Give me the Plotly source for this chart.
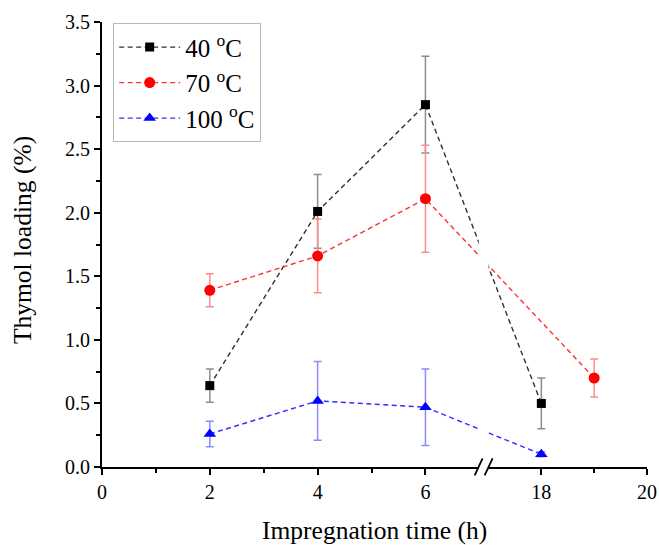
import plotly.graph_objects as go

# Impregnation times (h) and thymol loading (%) with standard deviations
times_40 = [2, 4, 6, 18]
load_40 = [0.64, 2.01, 2.85, 0.50]
err_40 = [0.13, 0.29, 0.38, 0.20]

times_70 = [2, 4, 6, 19]
load_70 = [1.39, 1.66, 2.11, 0.70]
err_70 = [0.13, 0.29, 0.42, 0.15]

times_100 = [2, 4, 6, 18]
load_100 = [0.26, 0.52, 0.47, 0.10]
err_100 = [0.10, 0.31, 0.30, 0.02]

x_major = [0, 2, 4, 6, 18, 20]
x_minor = [1, 3, 5, 19]
y_ticks = [0.0, 0.5, 1.0, 1.5, 2.0, 2.5, 3.0, 3.5]

series_names = ["40 <sup>o</sup>C", "70 <sup>o</sup>C", "100 <sup>o</sup>C"]


# Broken x axis: 0-6 h linear, then a break, then 18-20 h
BREAK_LOW, BREAK_HIGH = 6, 18
HIGH_OFFSET, HIGH_SCALE = 8.15, 0.98


def axis_pos(t):
    if t <= BREAK_LOW:
        return t
    return HIGH_OFFSET + (t - BREAK_HIGH) * HIGH_SCALE


def to_axis(ts):
    return [axis_pos(t) for t in ts]


FONT = "Liberation Serif"

fig = go.Figure()

# (times, values, errors, line colour, marker colour, error-bar colour, symbol, size)
styles = [
    (times_40, load_40, err_40, "#303030", "#000000", "#8c8c8c", "square", 9),
    (times_70, load_70, err_70, "#ff3030", "#ff0000", "#ff8c8c", "circle", 11),
    (times_100, load_100, err_100, "#3030ff", "#0000ff", "#8c8cff", "triangle-up", 11),
]

for name, (ts, ys, es, lc, mc, ec, sym, sz) in zip(series_names, styles):
    fig.add_trace(go.Scatter(
        x=to_axis(ts), y=ys, name=name, mode="lines+markers",
        line=dict(color=lc, width=1.4, dash="5px,3.5px"),
        marker=dict(symbol=sym, size=sz, color=mc, line=dict(width=0)),
        error_y=dict(type="data", array=es, visible=True, color=ec,
                     thickness=1.5, width=4),
        cliponaxis=False,
    ))

x_hi = axis_pos(20)

fig.update_layout(
    width=659, height=545,
    margin=dict(l=101.5, r=11.8, t=21.5, b=78.3, autoexpand=False),
    paper_bgcolor="white", plot_bgcolor="white",
    font=dict(family=FONT, color="black", size=20),
    showlegend=True,
    legend=dict(
        x=0.0205, y=0.997, xanchor="left", yanchor="top",
        bgcolor="white", bordercolor="#b8b8b8", borderwidth=1,
        font=dict(family=FONT, size=25, color="black"),
        itemwidth=61, tracegroupgap=0,
    ),
    xaxis=dict(
        range=[0, x_hi], showgrid=False, zeroline=False,
        showline=True, linecolor="black", linewidth=2,
        ticks="outside", ticklen=6, tickwidth=2, tickcolor="black",
        tickmode="array", tickvals=to_axis(x_major),
        ticktext=[str(v) for v in x_major],
        tickfont=dict(family=FONT, size=20, color="black"),
        minor=dict(tickmode="array", tickvals=to_axis(x_minor),
                   ticks="outside", ticklen=4, tickwidth=2, tickcolor="black"),
        fixedrange=True,
    ),
    yaxis=dict(
        range=[0, 3.5], showgrid=False, zeroline=False,
        showline=True, linecolor="black", linewidth=2,
        ticks="outside", ticklen=6, tickwidth=2, tickcolor="black",
        tickmode="array", tickvals=y_ticks,
        ticktext=[f"{v:.1f}" for v in y_ticks],
        tickfont=dict(family=FONT, size=20, color="black"),
        minor=dict(dtick=0.25, ticks="outside", ticklen=4, tickwidth=2,
                   tickcolor="black"),
        fixedrange=True,
    ),
    shapes=[
        # gap in the axis and the lines at the break
        dict(type="rect", xref="x", yref="paper", x0=6.99, x1=7.17,
             y0=-0.012, y1=1.0, fillcolor="white", line=dict(width=0),
             layer="above"),
        dict(type="line", xref="x", yref="paper", x0=6.913, x1=7.06,
             y0=-0.0186, y1=0.0195, line=dict(color="black", width=1.8),
             layer="above"),
        dict(type="line", xref="x", yref="paper", x0=7.098, x1=7.246,
             y0=-0.0186, y1=0.0195, line=dict(color="black", width=1.8),
             layer="above"),
    ],
    annotations=[
        dict(text="Impregnation time (h)", xref="paper", yref="paper",
             x=0.5, y=-0.143, xanchor="center", yanchor="middle",
             showarrow=False, font=dict(family=FONT, size=25.5, color="black")),
        dict(text="Thymol loading (%)", xref="paper", yref="paper",
             x=-0.1457, y=0.509, xanchor="center", yanchor="middle",
             textangle=-90, showarrow=False,
             font=dict(family=FONT, size=25.5, color="black")),
    ],
)

fig.write_html("out.html")
